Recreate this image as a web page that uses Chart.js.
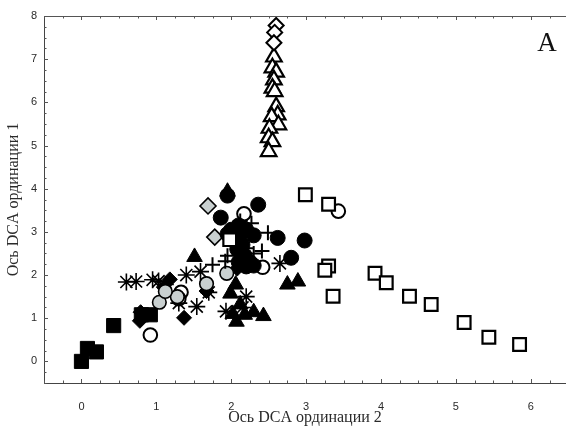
<!DOCTYPE html>
<html>
<head>
<meta charset="utf-8">
<script src="https://cdn.jsdelivr.net/npm/chart.js@4/dist/chart.umd.min.js"></script>
<style>
  html, body { margin: 0; padding: 0; background: #fff; overflow: hidden; }
  #chart { display: block; }
</style>
</head>
<body>
<canvas id="chart" width="566" height="428"></canvas>
<script>
// values (DCA axis 2 = x, DCA axis 1 = y)
var blackSqX = [0, 0.08, 0.2, 0.43, 0.8, 0.92];
var blackSqY = [0, 0.3, 0.22, 0.83, 1.08, 1.08];

var openSqX = [2.99, 3.30, 3.30, 3.25, 3.36, 3.92, 4.07, 4.38, 4.67, 5.11, 5.44, 5.85, 1.98];
var openSqY = [3.86, 3.64, 2.21, 2.11, 1.51, 2.04, 1.82, 1.51, 1.32, 0.90, 0.56, 0.39, 2.82];

var openTriX = [2.57, 2.55, 2.60, 2.57, 2.55, 2.58, 2.60, 2.62, 2.54, 2.63, 2.51, 2.50, 2.55, 2.50];
var openTriY = [7.05, 6.80, 6.70, 6.52, 6.33, 6.25, 5.90, 5.71, 5.67, 5.48, 5.40, 5.18, 5.09, 4.86];

var openDiaX = [2.60, 2.58, 2.57];
var openDiaY = [7.78, 7.62, 7.38];

var blackCircX = [1.95, 2.36, 1.86, 2.30, 2.62, 2.98, 2.80, 2.00, 2.10, 2.20, 2.05, 2.15, 2.08, 2.10, 2.25, 2.30, 2.18, 1.95, 2.12, 2.20];
var blackCircY = [3.84, 3.63, 3.33, 2.92, 2.86, 2.80, 2.40, 3.05, 3.15, 3.05, 2.85, 2.70, 2.60, 2.30, 2.30, 2.22, 2.45, 2.95, 2.95, 2.20];

var plusX = [2.12, 2.27, 2.49, 2.41, 1.75, 2.00, 1.95, 2.10, 1.92, 2.20, 2.30];
var plusY = [3.25, 3.20, 2.98, 2.56, 2.24, 2.75, 2.45, 2.50, 2.32, 2.62, 2.50];

var starX = [0.60, 0.73, 0.95, 1.03, 1.12, 1.40, 1.59, 1.30, 1.54, 1.93, 2.20, 2.65, 2.15, 1.70];
var starY = [1.84, 1.85, 1.89, 1.86, 1.78, 2.00, 2.08, 1.35, 1.27, 1.16, 1.50, 2.27, 1.25, 1.60];

var blackDiaX = [0.79, 0.78, 1.37, 1.67, 1.18, 1.10, 2.08];
var blackDiaY = [1.14, 0.94, 1.01, 1.63, 1.90, 1.72, 2.15];

var blackTriX = [1.51, 2.06, 1.99, 2.02, 2.07, 2.18, 2.30, 2.43, 2.12, 2.75, 2.89, 1.95];
var blackTriY = [2.42, 1.78, 1.57, 1.10, 0.92, 1.08, 1.14, 1.05, 1.32, 1.78, 1.85, 3.93];

var openCircX = [3.43, 2.17, 0.92, 2.42, 1.33, 1.30];
var openCircY = [3.48, 3.42, 0.61, 2.18, 1.60, 1.45];

var grayCircX = [1.04, 1.28, 1.67, 1.94, 1.12];
var grayCircY = [1.37, 1.50, 1.80, 2.04, 1.62];

var grayDiaX = [1.69, 1.78];
var grayDiaY = [3.60, 2.88];

var xTicks = [0, 1, 2, 3, 4, 5, 6];
var yTicks = [0, 1, 2, 3, 4, 5, 6, 7, 8];

var xTitle = "Ось DCA ординации 2";
var yTitle = "Ось DCA ординации 1";
var panelLabel = "A";

function pts(xs, ys) {
    var out = [];
    for (var i = 0; i < xs.length; i++) out.push({ x: xs[i], y: ys[i] });
    return out;
}

function ds(xs, ys, style, r, fill, bw) {
    return {
        data: pts(xs, ys),
        pointStyle: style,
        pointRadius: r,
        pointHoverRadius: r,
        backgroundColor: fill,
        borderColor: "#000",
        pointBorderWidth: bw,
        borderWidth: bw,
        showLine: false
    };
}

var GRAY = "#c9d0d0";

// first dataset is drawn on top
var datasets = [
    ds(openSqX, openSqY, "rect", 9, "#fff", 2.2),
    ds(plusX, plusY, "cross", 7.5, "#000", 2),
    ds(blackCircX, blackCircY, "circle", 7.5, "#000", 1),
    ds(grayCircX, grayCircY, "circle", 6.8, GRAY, 1.6),
    ds(starX, starY, "star", 8.5, "#000", 1.6),
    ds(openCircX, openCircY, "circle", 6.8, "#fff", 2),
    ds(blackTriX, blackTriY, "triangle", 9, "#000", 1),
    ds(blackDiaX, blackDiaY, "rectRot", 7.5, "#000", 1),
    ds(grayDiaX, grayDiaY, "rectRot", 8, GRAY, 1.6),
    ds(blackSqX, blackSqY, "rect", 10, "#000", 1),
    ds(openDiaX, openDiaY, "rectRot", 7.5, "#fff", 2),
    ds(openTriX, openTriY, "triangle", 9, "#fff", 2.2)
];

// inward minor ticks, top frame line and the panel letter
var framePlugin = {
    id: "frame",
    afterDraw: function(chart) {
        var ctx = chart.ctx;
        var a = chart.chartArea;
        var xs = chart.scales.x, ys = chart.scales.y;
        ctx.save();
        ctx.strokeStyle = "#555";
        ctx.lineWidth = 1;
        ctx.beginPath();
        ctx.moveTo(a.left, a.top + 0.5);
        ctx.lineTo(a.right, a.top + 0.5);
        for (var v = -0.5; v <= xs.max + 1e-6; v += 0.25) {
            var px = Math.round(xs.getPixelForValue(v)) + 0.5;
            var len = (Math.abs(v - Math.round(v)) < 1e-6) ? 4 : 2.5;
            ctx.moveTo(px, a.bottom);
            ctx.lineTo(px, a.bottom - len);
            ctx.moveTo(px, a.top);
            ctx.lineTo(px, a.top + len);
        }
        for (var w = -0.5; w <= ys.max + 1e-6; w += 0.25) {
            var py = Math.round(ys.getPixelForValue(w)) + 0.5;
            var len2 = (Math.abs(w - Math.round(w)) < 1e-6) ? 4 : 2.5;
            ctx.moveTo(a.left, py);
            ctx.lineTo(a.left + len2, py);
        }
        ctx.stroke();
        ctx.fillStyle = "#111";
        ctx.font = "27px 'Liberation Serif', 'Times New Roman', serif";
        ctx.textAlign = "center";
        ctx.textBaseline = "alphabetic";
        ctx.fillText(panelLabel, 547, 51);
        ctx.restore();
    }
};

new Chart(document.getElementById("chart"), {
    type: "scatter",
    data: { datasets: datasets },
    options: {
        responsive: false,
        animation: false,
        events: [],
        layout: { autoPadding: false, padding: { top: 16, right: 0, bottom: 0, left: 0 } },
        plugins: { legend: { display: false }, tooltip: { enabled: false } },
        scales: {
            x: {
                type: "linear",
                min: -0.5,
                max: 6.47,
                afterFit: function(s) {
                    s.height = 45;
                    s.paddingLeft = 0;
                    s.paddingRight = 0;
                },
                afterBuildTicks: function(s) { s.ticks = xTicks.map(function(v) { return { value: v }; }); },
                grid: { display: false, drawTicks: false },
                border: { display: true, color: "#444", width: 1 },
                ticks: {
                    padding: 17,
                    color: "#2a2a2a",
                    font: { family: "'Liberation Sans', Arial, sans-serif", size: 11 },
                    callback: function(v) { return v; }
                },
                title: {
                    display: true,
                    text: xTitle,
                    color: "#2a2a2a",
                    padding: { top: 0, bottom: 1 },
                    font: { family: "'Liberation Serif', 'Times New Roman', serif", size: 16 }
                }
            },
            y: {
                type: "linear",
                min: -0.5,
                max: 8,
                afterFit: function(s) {
                    s.width = 44;
                    s.paddingTop = 0;
                    s.paddingBottom = 0;
                },
                afterBuildTicks: function(s) { s.ticks = yTicks.map(function(v) { return { value: v }; }); },
                grid: { display: false, drawTicks: false },
                border: { display: true, color: "#444", width: 1 },
                ticks: {
                    padding: 7,
                    color: "#2a2a2a",
                    font: { family: "'Liberation Sans', Arial, sans-serif", size: 11 },
                    callback: function(v) { return v; }
                },
                title: {
                    display: true,
                    text: yTitle,
                    color: "#2a2a2a",
                    padding: { top: 4, bottom: 0 },
                    font: { family: "'Liberation Serif', 'Times New Roman', serif", size: 16 }
                }
            }
        }
    },
    plugins: [framePlugin]
});
</script>
</body>
</html>
